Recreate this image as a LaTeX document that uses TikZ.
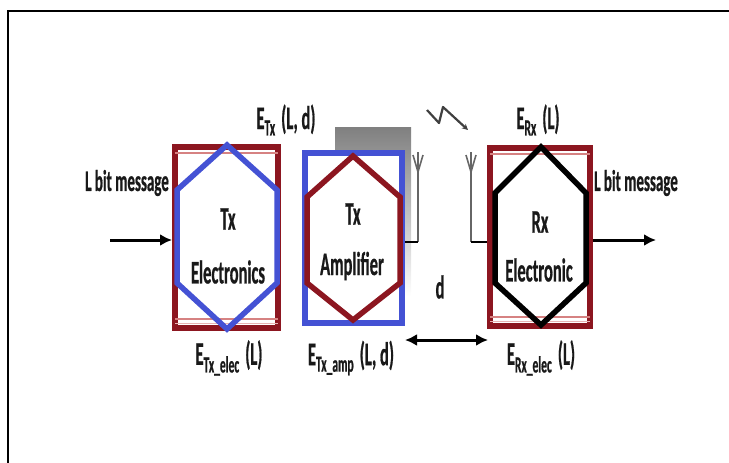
\documentclass[tikz,border=0pt]{standalone}
\usepackage{fontspec}
\newfontfamily\lblfont{Carlito}[FakeStretch=0.5,FakeBold=0.6]
\usetikzlibrary{arrows.meta}
\definecolor{dred}{RGB}{140,22,32}
\definecolor{pblue}{RGB}{68,82,212}
\definecolor{pinkl}{RGB}{214,130,130}
\definecolor{shade}{RGB}{206,206,206}
\definecolor{ink}{RGB}{25,25,25}
\tikzset{
  lbl/.style={text=ink, font=\lblfont\bfseries\fontsize{30}{32}\selectfont, inner sep=0pt},
  big/.style={text=ink, font=\lblfont\bfseries\fontsize{33}{35}\selectfont, inner sep=0pt},
  blockbox/.style={draw, line width=6pt, minimum width=#1, inner sep=0pt},
  hexa/.style={line width=5.5pt, line join=miter},
  arr/.style={line width=3pt, -{Latex[length=12pt,width=12pt]}},
  antenna/.style={draw=black!60, line width=1.6pt},
}
\begin{document}
\begin{tikzpicture}[x=1pt,y=-1pt]
\useasboundingbox (0,0) rectangle (729,463);
% outer frame
\draw[line width=2.5pt] (8,463) -- (8,11) -- (729,11);
% gray shadow of amplifier
\fill[shade] (335,127) rectangle (411,296);
% boxes
\node[blockbox=103pt, draw=dred, minimum height=181pt] (txe) at (226.5,237.5) {};
\node[blockbox=97pt, draw=pblue, minimum height=170pt, fill=white] (txa) at (353.5,238) {};
\node[blockbox=100pt, draw=dred, minimum height=178pt] (rxe) at (540,237) {};
% thin inner lines
\draw[pinkl, line width=1.4pt] ([xshift=3pt,yshift=-9pt]txe.north west) -- ([xshift=-3pt,yshift=-9pt]txe.north east);
\draw[pinkl, line width=1.4pt] ([xshift=3pt,yshift=12pt]txe.south west) -- ([xshift=-3pt,yshift=12pt]txe.south east);
\draw[pinkl!60, line width=1pt] ([xshift=3pt,yshift=8pt]txe.south west) -- ([xshift=-3pt,yshift=8pt]txe.south east);
\draw[pinkl, line width=1.4pt] ([xshift=3pt,yshift=-9pt]rxe.north west) -- ([xshift=-3pt,yshift=-9pt]rxe.north east);
\draw[pinkl, line width=1.4pt] ([xshift=3pt,yshift=12pt]rxe.south west) -- ([xshift=-3pt,yshift=12pt]rxe.south east);
\draw[pinkl!60, line width=1pt] ([xshift=3pt,yshift=8pt]rxe.south west) -- ([xshift=-3pt,yshift=8pt]rxe.south east);
% hexagons
\draw[hexa, pblue] (227,145) -- (277,190) -- (277,283) -- (227,329) -- (177,283) -- (177,190) -- cycle;
\draw[hexa, dred] (353,156) -- (400,197) -- (400,283) -- (353,320) -- (307,283) -- (307,197) -- cycle;
\draw[hexa, black] (541,147) -- (586,193) -- (586,283) -- (541,325) -- (495,283) -- (495,193) -- cycle;
% antennas
\coordinate (a1b) at (418,242);
\coordinate (a1t) at (418,152);
\coordinate (a1k) at (418,172);
\draw[antenna] (a1t) -- (a1b);
\draw[antenna] (413,155) -- (a1k) -- (423,155);
\draw[black, line width=1.6pt] (txa.east |- a1b) -- (a1b);
\coordinate (a2b) at (471,242);
\coordinate (a2t) at (471,152);
\coordinate (a2k) at (471,172);
\draw[antenna] (a2t) -- (a2b);
\draw[antenna] (466,155) -- (a2k) -- (476,155);
\draw[black, line width=1.6pt] (a2b) -- (rxe.west |- a2b);
% wireless zigzag
\coordinate (z0) at (427,110);
\coordinate (z3) at (468,130);
\draw[black!75, line width=2.2pt, line join=round, -{Stealth[length=6pt,width=6pt]}] (z0) -- (439,123) -- (443,107) -- (z3);
% arrows
\coordinate (inA) at (110,240);
\coordinate (outB) at (656,240);
\draw[arr] (inA) -- (txe.west |- inA);
\draw[arr] (rxe.east |- outB) -- (outB);
\draw[line width=3pt, {Latex[length=12pt,width=12pt]}-{Latex[length=12pt,width=12pt]}] (405,340) -- (488,340);
% labels
\node[lbl] (lb1) at (127,183) {L bit message};
\node[lbl] (lb2) at (636,183) {L bit message};
\node[big] (t1) at (228,219) {Tx};
\node[big] (t2) at (228,272) {Electronics};
\node[big] (t3) at (353,214) {Tx};
\node[big] (t4) at (352,266) {Amplifier};
\node[big] (t5) at (540,222) {Rx};
\node[big] (t6) at (539,270) {Electronic};
\node[big] (dl) at (440,287) {d};
\node[big] (etx) at (286,120) {E\textsubscript{Tx}\,(L, d)};
\node[big] (erx) at (538,120) {E\textsubscript{Rx}\,(L)};
\node[big] (etxe) at (229,358) {E\textsubscript{Tx\_elec}\,(L)};
\node[big] (etxa) at (351,358) {E\textsubscript{Tx\_amp}\,(L, d)};
\node[big] (erxe) at (541,358) {E\textsubscript{Rx\_elec}\,(L)};
\end{tikzpicture}
\end{document}
